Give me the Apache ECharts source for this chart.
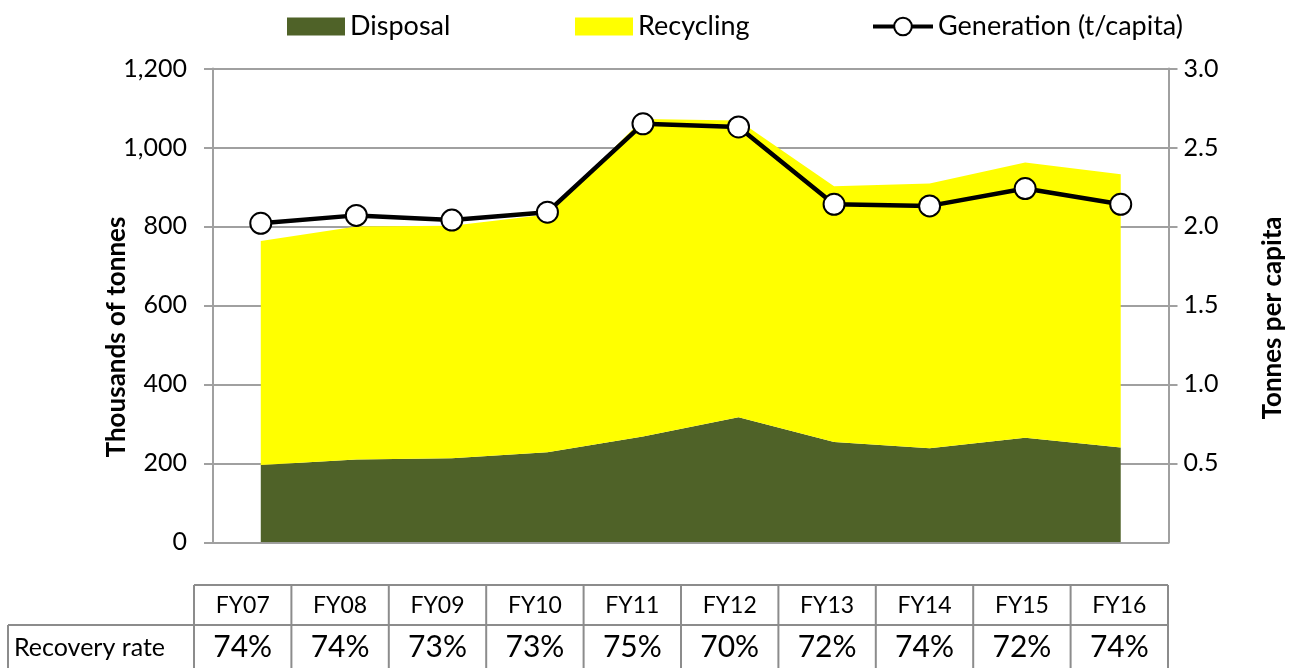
<!DOCTYPE html>
<html>
<head>
<meta charset="utf-8">
<script src="https://cdn.jsdelivr.net/npm/echarts@6/dist/echarts.min.js"></script>
<style>
html,body{margin:0;padding:0;background:#fff;}
#chart{width:1299px;height:668px;}
</style>
</head>
<body>
<div id="chart"></div>
<script>
const categories = ['FY07','FY08','FY09','FY10','FY11','FY12','FY13','FY14','FY15','FY16'];
const disposal = [196,210,213,228,268,317,254,238,265,240];
const recycling = [567,590,589,602,804,751,648,671,697,692];
const generation = [2.02,2.07,2.04,2.09,2.65,2.63,2.14,2.13,2.24,2.14];
const recoveryRate = ['74%','74%','73%','73%','75%','70%','72%','74%','72%','74%'];
const rowLabel = 'Recovery rate';
const leftTitle = 'Thousands of tonnes';
const rightTitle = 'Tonnes per capita';

const FONT = 'Lato, "Open Sans", sans-serif';
const GRID_COLOR = '#a0a0a0';
const TABLE_COLOR = '#8c8c8c';

const chart = echarts.init(document.getElementById('chart'));

// table graphic
const tableLeft = 194, colW = 97.4, headTop = 585, rowTop = 625, rowBottom = 672, labelLeft = 8;
const g = [];
const tableRight = tableLeft + colW * categories.length;
function line(x1,y1,x2,y2){
  g.push({type:'line', shape:{x1,y1,x2,y2}, style:{stroke:TABLE_COLOR, lineWidth:2}, silent:true});
}
line(tableLeft, headTop, tableRight, headTop);
line(labelLeft, rowTop, tableRight, rowTop);
line(labelLeft, rowTop, labelLeft, rowBottom);
for (let i = 0; i <= categories.length; i++) {
  const x = tableLeft + colW * i;
  line(x, headTop, x, rowBottom);
}
categories.forEach((c, i) => {
  const cx = tableLeft + colW * (i + 0.5);
  g.push({type:'text', x: cx, y: (headTop + rowTop) / 2 + 1, style:{text:c, fill:'#000', font:'23px ' + FONT, align:'center', verticalAlign:'middle'}, silent:true});
  g.push({type:'text', x: cx, y: (rowTop + 668) / 2 + 1, style:{text:recoveryRate[i], fill:'#000', font:'30px ' + FONT, align:'center', verticalAlign:'middle'}, silent:true});
});
g.push({type:'text', x: labelLeft + 6, y: (rowTop + 668) / 2 + 1, style:{text:rowLabel, fill:'#000', font:'25px ' + FONT, align:'left', verticalAlign:'middle'}, silent:true});
// axis titles
g.push({type:'text', x: 117, y: 337, rotation: Math.PI / 2, style:{text:leftTitle, fill:'#000', font:'bold 26px ' + FONT, align:'center', verticalAlign:'middle'}, silent:true});
g.push({type:'text', x: 1273, y: 318, rotation: Math.PI / 2, style:{text:rightTitle, fill:'#000', font:'bold 26px ' + FONT, align:'center', verticalAlign:'middle'}, silent:true});

const legendText = {color:'#000', fontSize:27, fontFamily:FONT};

const option = {
  animation: false,
  backgroundColor: '#fff',
  legend: [
    {data:[{name:'Disposal', icon:'rect'}], left: 282, top: 8, itemWidth: 58, itemHeight: 18, itemGap: 0, textStyle: legendText},
    {data:[{name:'Recycling', icon:'rect'}], left: 570, top: 8, itemWidth: 58, itemHeight: 18, itemGap: 0, textStyle: legendText},
    {data:['Generation (t/capita)'], left: 866, top: 8, itemWidth: 60, itemHeight: 22, itemGap: 0, textStyle: legendText,
      lineStyle: {width: 4, color: '#000'}, itemStyle: {color: '#fff', borderColor: '#000', borderWidth: 2}}
  ],
  grid: {left: 213, right: 130.5, top: 68.5, bottom: 125.7, containLabel: false},
  xAxis: {
    type: 'category',
    data: categories,
    boundaryGap: true,
    axisLine: {show: true, lineStyle: {color: GRID_COLOR, width: 2}},
    axisTick: {show: false},
    axisLabel: {show: false},
    splitLine: {show: false}
  },
  yAxis: [
    {
      type: 'value', min: 0, max: 1200, interval: 200,
      axisLine: {show: true, lineStyle: {color: GRID_COLOR, width: 2}},
      axisTick: {show: true, length: 9, lineStyle: {color: GRID_COLOR, width: 2}},
      axisLabel: {color: '#000', fontSize: 25, fontFamily: FONT, margin: 26,
        formatter: v => v.toLocaleString('en-US')},
      splitLine: {show: true, lineStyle: {color: GRID_COLOR, width: 2}}
    },
    {
      type: 'value', min: 0, max: 3, interval: 0.5, position: 'right',
      axisLine: {show: true, lineStyle: {color: GRID_COLOR, width: 2}},
      axisTick: {show: true, length: 9, lineStyle: {color: GRID_COLOR, width: 2}},
      axisLabel: {color: '#000', fontSize: 25, fontFamily: FONT, margin: 15, showMinLabel: false,
        formatter: v => v.toFixed(1)},
      splitLine: {show: false}
    }
  ],
  series: [
    {
      name: 'Disposal', type: 'line', stack: 'total', data: disposal,
      symbol: 'none', lineStyle: {width: 0}, areaStyle: {color: '#4f6228', opacity: 1},
      itemStyle: {color: '#4f6228'}, z: 2
    },
    {
      name: 'Recycling', type: 'line', stack: 'total', data: recycling,
      symbol: 'none', lineStyle: {width: 0}, areaStyle: {color: '#ffff00', opacity: 1},
      itemStyle: {color: '#ffff00'}, z: 2
    },
    {
      name: 'Generation (t/capita)', type: 'line', yAxisIndex: 1, data: generation,
      symbol: 'circle', symbolSize: 21,
      lineStyle: {color: '#000', width: 4.5},
      itemStyle: {color: '#fff', borderColor: '#000', borderWidth: 2},
      z: 5
    }
  ],
  graphic: g
};
chart.setOption(option);
</script>
</body>
</html>
